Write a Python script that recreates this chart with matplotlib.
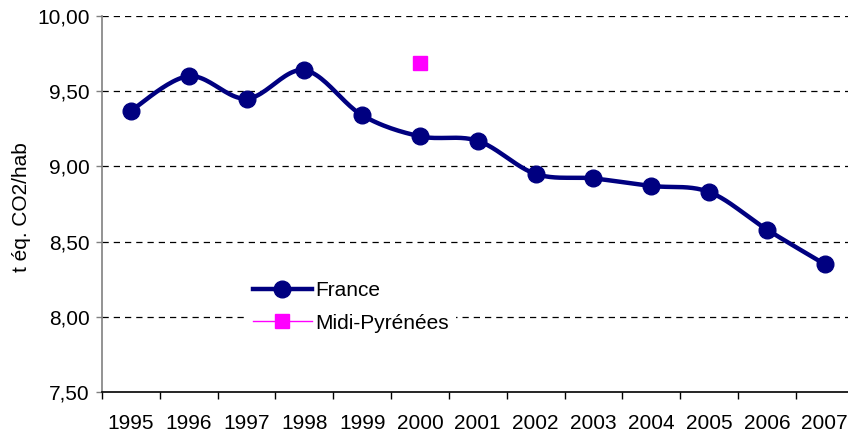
import numpy as np
import matplotlib
matplotlib.use("Agg")
import matplotlib.pyplot as plt
from matplotlib.ticker import FixedLocator, FuncFormatter
from matplotlib.lines import Line2D

plt.rcParams['font.family'] = ['Liberation Sans', 'DejaVu Sans']

years = ['1995', '1996', '1997', '1998', '1999', '2000', '2001',
         '2002', '2003', '2004', '2005', '2006', '2007']
france = [9.37, 9.60, 9.45, 9.64, 9.34, 9.20, 9.17, 8.95, 8.92, 8.87, 8.83, 8.58, 8.35]
midi_year = '2000'
midi_value = [9.69]
y_ticks = [7.5, 8.0, 8.5, 9.0, 9.5, 10.0]
y_label = 't éq. CO2/hab'

NAVY = '#000080'
MAGENTA = '#FF00FF'
FS = 15

def catmull_rom(x, y, n=24):
    x = np.asarray(x, float); y = np.asarray(y, float)
    px = np.concatenate([[x[0]], x, [x[-1]]])
    py = np.concatenate([[y[0]], y, [y[-1]]])
    xs, ys = [], []
    t = np.linspace(0, 1, n, endpoint=False)
    for i in range(1, len(px) - 2):
        for arr, out in ((px, xs), (py, ys)):
            p0, p1, p2, p3 = arr[i-1], arr[i], arr[i+1], arr[i+2]
            out.extend(0.5 * ((2*p1) + (-p0 + p2)*t + (2*p0 - 5*p1 + 4*p2 - p3)*t**2
                              + (-p0 + 3*p1 - 3*p2 + p3)*t**3))
    xs.append(x[-1]); ys.append(y[-1])
    return np.array(xs), np.array(ys)

fig = plt.figure(figsize=(8.48, 4.34), dpi=100)
ax = fig.add_axes([102/848, 1 - 392/434, 751.6/848, 376/434])

xpos = np.arange(len(years))
sx, sy = catmull_rom(xpos, france)
ax.plot(sx, sy, color=NAVY, lw=3.2, solid_capstyle='round', zorder=3)
ax.plot(xpos, france, ls='none', marker='o', ms=12, color=NAVY, zorder=4)
ax.plot([years.index(midi_year)], midi_value, ls='none', marker='s', ms=10,
        color=MAGENTA, zorder=4)

ax.set_xlim(-0.5, len(years) - 0.5)
ax.set_ylim(7.5, 10.0)
ax.yaxis.set_major_locator(FixedLocator(y_ticks))
ax.yaxis.set_major_formatter(FuncFormatter(lambda v, p: f"{v:.2f}".replace('.', ',')))
for v in y_ticks[1:]:
    ax.axhline(v, color='black', lw=0.9, ls=(0, (5, 4)), zorder=1)

ax.xaxis.set_major_locator(FixedLocator(np.arange(-0.5, len(years), 1.0)))
ax.xaxis.set_major_formatter(FuncFormatter(lambda v, p: ''))
ax.xaxis.set_minor_locator(FixedLocator(xpos))
ax.set_xticklabels(years, minor=True)
ax.tick_params(axis='x', which='minor', length=0, labelsize=FS, pad=16)
ax.tick_params(axis='x', which='major', length=5, width=1, color='black', direction='out')
ax.tick_params(axis='y', length=4, width=1, color='#808080', labelsize=FS, pad=5)

for s in ('top', 'right'):
    ax.spines[s].set_visible(False)
ax.spines['left'].set_color('#808080')
ax.spines['left'].set_linewidth(1.2)
ax.spines['bottom'].set_color('black')
ax.spines['bottom'].set_linewidth(1.2)

ax.set_ylabel(y_label, fontsize=FS)
ax.yaxis.set_label_coords(-(102 - 31) / 751.6, (392 - 207) / 376)

handles = [Line2D([], [], color=NAVY, lw=3.2, marker='o', ms=12),
           Line2D([], [], color=MAGENTA, lw=1, marker='s', ms=10)]
leg = ax.legend(handles, ['France', 'Midi-Pyrénées'], loc='upper left',
                bbox_to_anchor=(247/848, 1 - 275/434), bbox_transform=fig.transFigure,
                frameon=True, fancybox=False, facecolor='white', edgecolor='none',
                framealpha=1, fontsize=FS, handlelength=2.8, handletextpad=0.2,
                labelspacing=0.65, borderpad=0.3, borderaxespad=0)
leg.set_zorder(5)

fig.savefig('out.png', dpi=100)
